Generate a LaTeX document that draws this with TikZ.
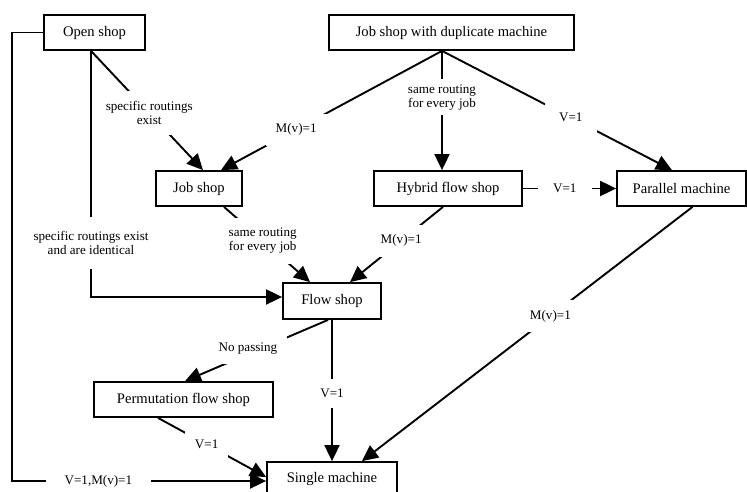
\documentclass[tikz,border=0pt]{standalone}
\usepackage{fontspec}
\setmainfont{Liberation Serif}
\usetikzlibrary{arrows.meta}

\begin{document}
\begin{tikzpicture}[x=1pt,y=-1pt,
  box/.style={draw,line width=1.8pt,minimum height=35pt,inner sep=0pt,font=\fontsize{14.6}{17}\selectfont},
  lab/.style={fill=white,inner sep=10pt,align=center,font=\fontsize{13.1}{14.5}\selectfont},
  link/.style={draw,line width=1.9pt},
  >={Triangle[length=16pt,width=15pt]}]
\useasboundingbox (0,0) rectangle (747,492);
\node[box,minimum width=101pt] (open) at (94.5,32.5) {Open shop};
\node[box,minimum width=245pt] (dup) at (451.5,32.5) {Job shop with duplicate machine};
\node[box,minimum width=86pt] (job) at (199,188.5) {Job shop};
\node[box,minimum width=148pt] (hyb) at (448,188.5) {Hybrid flow shop};
\node[box,minimum width=129pt] (par) at (681.5,188.5) {Parallel machine};
\node[box,minimum width=98pt,minimum height=36pt] (flow) at (332,301) {Flow shop};
\node[box,minimum width=179pt] (perm) at (183.5,399.5) {Permutation flow shop};
\node[box,minimum width=130pt] (single) at (332,479.5) {Single machine};
\coordinate (bend) at (12,481);

\path[link,->] ([xshift=-3.5pt]open.south) |- node[lab,pos=0.39,inner ysep=14pt] {specific routings exist\\and are identical} ([yshift=4pt]flow.west);
\path[link,->] ([xshift=-3.5pt]open.south) -- node[lab,pos=0.52] {specific routings\\exist} ([xshift=4pt]job.north);
\path[link,->] (open.west) -| (bend) -- node[lab,pos=0.34,inner xsep=19pt] {V=1,M(v)=1} ([yshift=-1.5pt]single.west);

\path[link,->] ([xshift=-9.5pt]dup.south) -- node[lab,pos=0.66] {M(v)=1} ([xshift=22pt]job.north);
\path[link,->] ([xshift=-9.5pt]dup.south) -- node[lab,pos=0.39,inner sep=5pt] {same routing\\for every job} ([xshift=-6pt]hyb.north);
\path[link,->] ([xshift=-9.5pt]dup.south) -- node[lab,pos=0.56,inner sep=14pt] {V=1} ([xshift=-9.5pt]par.north);

\path[link,->] (hyb.east) -- node[lab,pos=0.45,inner xsep=15pt] {V=1} (par.west);
\path[link,->] ([xshift=-5pt]hyb.south) -- node[lab,pos=0.45] {M(v)=1} ([xshift=18pt]flow.north);
\path[link,->] ([xshift=25pt]job.south) -- node[lab,pos=0.45] {same routing\\for every job} ([xshift=-22pt]flow.north);
\path[link,->] ([xshift=11pt]par.south) -- node[lab,pos=0.43] {M(v)=1} ([xshift=30pt]single.north);

\path[link,->] (flow.south) -- node[lab,pos=0.52] {V=1} (single.north);
\path[link,->] ([xshift=-4pt]flow.south) -- node[lab,pos=0.56,yshift=6pt] {No passing} ([xshift=1.5pt]perm.north);
\path[link,->] ([xshift=-25.5pt]perm.south) -- node[lab,pos=0.45] {V=1} ([yshift=2.5pt]single.west);
\end{tikzpicture}
\end{document}
